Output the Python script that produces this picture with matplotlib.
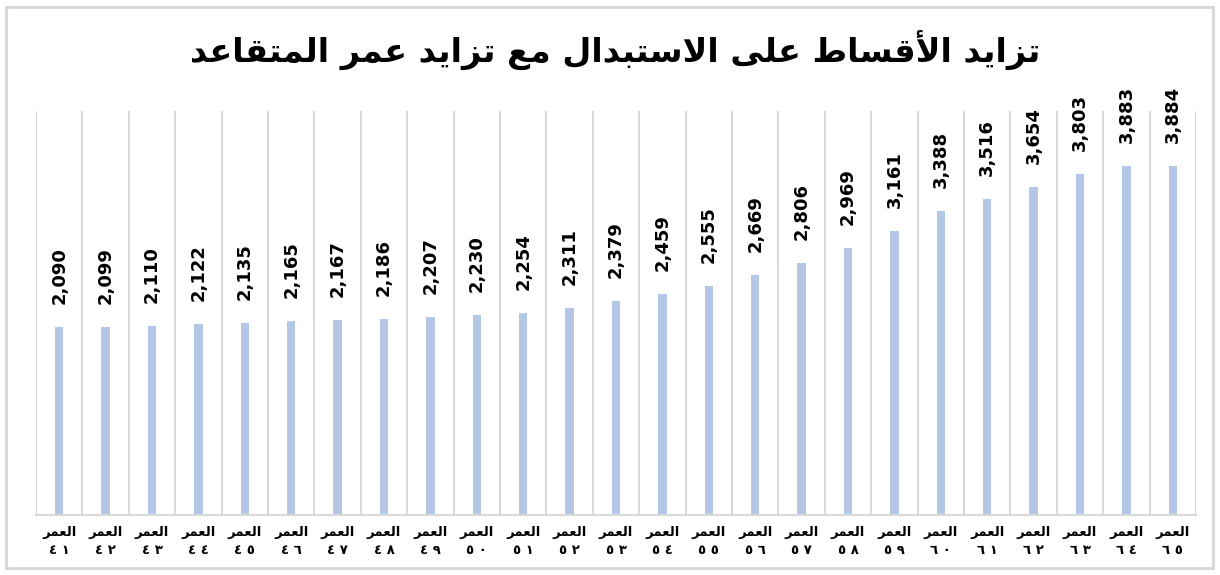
import matplotlib
matplotlib.use("Agg")
import matplotlib.pyplot as plt
from matplotlib.patches import Rectangle

# ---------------- data ----------------
ages = list(range(41, 66))
values = [2090, 2099, 2110, 2122, 2135, 2165, 2167, 2186, 2207, 2230, 2254,
          2311, 2379, 2459, 2555, 2669, 2806, 2969, 3161, 3388, 3516, 3654,
          3803, 3883, 3884]
title_text = "تزايد الأقساط على الاستبدال مع تزايد عمر المتقاعد"
age_word = "العمر"
y_max = 4500

# ---------------- minimal Arabic shaping ----------------
FORMS = {
    'ا': ('\uFE8D', '\uFE8E'),
    'أ': ('\uFE83', '\uFE84'),
    'د': ('\uFEA9', '\uFEAA'),
    'ر': ('\uFEAD', '\uFEAE'),
    'ز': ('\uFEAF', '\uFEB0'),
    'ى': ('\uFEEF', '\uFEF0'),
    'ب': ('\uFE8F', '\uFE90', '\uFE91', '\uFE92'),
    'ت': ('\uFE95', '\uFE96', '\uFE97', '\uFE98'),
    'س': ('\uFEB1', '\uFEB2', '\uFEB3', '\uFEB4'),
    'ط': ('\uFEC1', '\uFEC2', '\uFEC3', '\uFEC4'),
    'ع': ('\uFEC9', '\uFECA', '\uFECB', '\uFECC'),
    'ق': ('\uFED5', '\uFED6', '\uFED7', '\uFED8'),
    'ل': ('\uFEDD', '\uFEDE', '\uFEDF', '\uFEE0'),
    'م': ('\uFEE1', '\uFEE2', '\uFEE3', '\uFEE4'),
    'ي': ('\uFEF1', '\uFEF2', '\uFEF3', '\uFEF4'),
    'LA': ('\uFEFB', '\uFEFC'),
    'LAH': ('\uFEF7', '\uFEF8'),
}


def shape(text):
    toks = []
    i = 0
    while i < len(text):
        c = text[i]
        if c == 'ل' and i + 1 < len(text) and text[i + 1] in ('ا', 'أ'):
            toks.append('LA' if text[i + 1] == 'ا' else 'LAH')
            i += 2
        else:
            toks.append(c)
            i += 1
    out = []
    for k, t in enumerate(toks):
        if t not in FORMS:
            out.append(t)
            continue
        f = FORMS[t]
        prev = toks[k - 1] if k > 0 else None
        nxt = toks[k + 1] if k + 1 < len(toks) else None
        jp = prev in FORMS and len(FORMS[prev]) == 4
        jn = len(f) == 4 and nxt in FORMS
        if jp and jn:
            out.append(f[3])
        elif jp:
            out.append(f[1])
        elif jn:
            out.append(f[2])
        else:
            out.append(f[0])
    return ''.join(reversed(out))


def arabic_digits(n):
    d = '٠١٢٣٤٥٦٧٨٩'
    return ' '.join(d[int(ch)] for ch in str(n))


# ---------------- figure ----------------
W, H = 1220, 575
fig = plt.figure(figsize=(W / 100, H / 100), dpi=100)
fig.patches.append(Rectangle((6 / W, 7 / H), (1213 - 6) / W, (568 - 7) / H,
                             transform=fig.transFigure, fill=False,
                             edgecolor='#d9d9d9', lw=2.2))

L, R, T, B = 36, 1196, 111, 515
ax = fig.add_axes([L / W, (H - B) / H, (R - L) / W, (B - T) / H])

x = list(range(len(ages)))
ax.bar(x, values, width=0.18, color='#B4C7E7', zorder=2)
ax.set_xlim(-0.5, len(ages) - 0.5)
ax.set_ylim(0, y_max)

for b in [i - 0.5 for i in range(len(ages) + 1)]:
    ax.axvline(b, color='#d9d9d9', lw=1.5, zorder=1)

for s in ['top', 'right', 'left']:
    ax.spines[s].set_visible(False)
ax.spines['bottom'].set_color('#d9d9d9')
ax.spines['bottom'].set_linewidth(1.5)
ax.set_yticks([])
ax.set_xticks(x)
ax.set_xticklabels([shape(age_word) + '\n' + arabic_digits(a) for a in ages],
                   fontsize=9.5, fontweight='bold', family='DejaVu Sans',
                   linespacing=1.5)
ax.tick_params(axis='x', length=0, pad=8)

for xi, v in zip(x, values):
    ax.annotate(f"{v:,}", (xi, v), xytext=(0, 23), textcoords='offset pixels',
                rotation=90, ha='center', va='bottom', fontsize=13,
                fontweight='bold', family='DejaVu Sans')

fig.text(615 / W, 1 - 50 / H, shape(title_text), ha='center', va='center',
         fontsize=24, fontweight='bold', family='DejaVu Sans')

fig.savefig('out.png', dpi=100)
